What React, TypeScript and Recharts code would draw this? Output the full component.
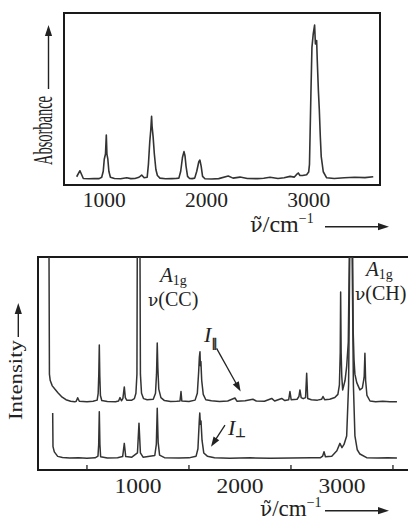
import React from 'react';
import { LineChart, Line, XAxis, YAxis, ReferenceArea, ReferenceLine, ReferenceDot } from 'recharts';

const FONT = '"Liberation Serif", "Times New Roman", serif';
const SYMBOL_FONT = '"DejaVu Sans", sans-serif';
const NU_FONT = '"DejaVu Serif", serif';
const INK = '#222';
const TRACE = '#333';

// ---------- IR absorbance (top panel) ----------
const irWavenumber = [730, 762, 795, 850, 900, 950, 975, 990, 1000, 1012, 1020, 1026, 1035, 1045, 1060, 1100, 1160, 1219, 1260, 1300, 1340, 1366, 1390, 1420, 1432, 1445, 1455, 1463, 1468, 1478, 1490, 1505, 1520, 1545, 1600, 1660, 1700, 1730, 1748, 1765, 1780, 1790, 1800, 1815, 1835, 1860, 1885, 1905, 1925, 1936, 1948, 1962, 1985, 2050, 2120, 2213, 2260, 2328, 2400, 2500, 2560, 2622, 2700, 2760, 2818, 2860, 2880, 2898, 2915, 2940, 2980, 3000, 3008, 3022, 3032, 3045, 3058, 3066, 3078, 3084, 3095, 3104, 3114, 3123, 3143, 3176, 3250, 3350, 3450, 3550, 3632];
const irAbsorbance = [4.8, 8.3, 3.8, 3.6, 3.8, 3.7, 4.5, 8, 15, 18, 29, 18, 15, 8, 4.5, 3.8, 3.6, 4.2, 3.7, 3.8, 4.5, 5.8, 4.2, 4.5, 12, 25, 32, 40, 34, 28, 18, 9, 5.5, 4, 3.6, 3.7, 3.8, 4, 8, 16, 19.4, 17, 11, 5, 3.8, 3.7, 4, 8, 13.5, 14.5, 11, 5, 3.6, 3.5, 3.7, 5.2, 4, 4.6, 3.8, 3.7, 3.9, 4.5, 3.8, 4.2, 5, 4.6, 6, 7, 5.5, 5.5, 6, 7.5, 12, 53, 80, 88, 93, 82, 84, 72.7, 55, 44, 28, 16.5, 7.7, 4.2, 3.8, 4.2, 4.5, 4.3, 4.8];
const irTicks = [1000, 2000, 3000];

// ---------- Raman (bottom panel) ----------
const parallelWavenumber = [128, 132, 140, 160, 185, 215, 250, 294, 340, 380, 395, 409, 425, 500, 560, 600, 610, 616, 621, 626, 632, 645, 700, 780, 810, 824, 838, 852, 866, 876, 890, 940, 965, 980, 990, 993, 1020, 1024, 1035, 1055, 1090, 1150, 1172, 1182, 1189, 1195, 1204, 1225, 1260, 1320, 1380, 1412, 1422, 1430, 1500, 1560, 1582, 1595, 1602, 1608, 1612, 1617, 1625, 1640, 1665, 1720, 1800, 1880, 1951, 1970, 2050, 2127, 2160, 2240, 2311, 2340, 2409, 2440, 2478, 2490, 2502, 2560, 2578, 2588, 2600, 2620, 2643, 2654, 2664, 2700, 2760, 2800, 2814, 2830, 2880, 2930, 2960, 2975, 2983, 2987, 2992, 2998, 3007, 3030, 3046, 3062, 3072, 3105, 3110, 3118, 3127, 3145, 3176, 3200, 3212, 3218, 3225, 3232, 3245, 3275, 3330, 3400, 3470, 3539];
const parallelIntensity = [100, 45, 42, 39.5, 38, 36.3, 34.5, 33, 32.3, 32, 32.3, 33.9, 32.3, 32, 32.3, 32.8, 36, 45, 58.7, 44, 35, 32.6, 32.2, 32, 32.4, 34, 32.5, 33.5, 39, 34, 32.8, 32.8, 33.5, 36, 45, 100, 100, 45, 36, 33.5, 33, 33.2, 36, 45, 59.6, 48, 38, 34, 32.6, 32.2, 32.3, 32.4, 36.8, 32.4, 32.2, 32.8, 36, 46, 53, 55.5, 49, 51, 42, 35.5, 33, 32.5, 32.2, 32.4, 33.8, 32.3, 32.5, 33.2, 32.4, 32.3, 33.6, 32.4, 33.6, 32.6, 33, 36.8, 33, 33.2, 34.5, 37.6, 34, 33.5, 34, 45.4, 33.6, 33, 32.8, 33.2, 34.5, 33, 33.2, 34, 35.5, 40, 55, 83.6, 55, 44, 37.6, 42, 48.5, 60, 100, 100, 65, 52, 45, 41, 37.6, 38.5, 42, 44, 54.8, 42, 35, 32.4, 32, 32.3, 32.1, 32];

const perpWavenumber = [164, 167, 180, 213, 260, 330, 420, 500, 580, 608, 615, 621, 627, 634, 700, 800, 850, 866, 880, 940, 995, 1010, 1024, 1050, 1165, 1180, 1189, 1198, 1212, 1260, 1400, 1500, 1570, 1588, 1600, 1606, 1612, 1618, 1628, 1645, 1680, 1750, 1900, 2100, 2300, 2500, 2700, 2790, 2810, 2824, 2838, 2900, 2950, 2980, 3000, 3020, 3046, 3065, 3076, 3100, 3112, 3127, 3150, 3176, 3242, 3350, 3450, 3539];
const perpIntensity = [26.8, 11, 8.5, 6.4, 5.9, 5.6, 5.7, 5.5, 5.7, 6.5, 12, 27.4, 12, 6.2, 5.6, 5.8, 6.3, 12.5, 6.3, 6, 8, 22, 8, 6, 6.8, 12, 29, 13, 7, 5.8, 5.6, 5.7, 6.5, 10, 22, 26.8, 21.5, 23, 14, 8, 6.5, 5.8, 5.5, 5.7, 5.5, 5.6, 5.8, 5.8, 6.5, 8.6, 6.2, 6.5, 9, 12.5, 10.5, 12, 16, 40, 100, 100, 40, 16, 9.5, 7.5, 5.8, 5.6, 5.8, 5.6];

const ramanTicks = [1000, 2000, 3000];
const ramanMinorTicks = [500, 1500, 2500, 3500];

const zip = (xs: number[], ys: number[]) => xs.map((x, i) => ({ x, y: ys[i] }));
const irData = zip(irWavenumber, irAbsorbance);
const parallelData = zip(parallelWavenumber, parallelIntensity);
const perpData = zip(perpWavenumber, perpIntensity);

const IR_DOMAIN: [number, number] = [606, 3698];
const RAMAN_DOMAIN: [number, number] = [20, 3667];

// ---------- helpers ----------
const Arrow = ({ x1, y1, x2, y2, w = 1.3, hl = 9, hw = 3.2 }: any) => {
  const dx = x2 - x1;
  const dy = y2 - y1;
  const L = Math.hypot(dx, dy) || 1;
  const ux = dx / L;
  const uy = dy / L;
  const bx = x2 - ux * hl;
  const by = y2 - uy * hl;
  return (
    <g>
      <line x1={x1} y1={y1} x2={bx + ux * 1} y2={by + uy * 1} stroke={INK} strokeWidth={w} />
      <polygon
        points={`${x2},${y2} ${bx - uy * hw},${by + ux * hw} ${bx + uy * hw},${by - ux * hw}`}
        fill={INK}
      />
    </g>
  );
};

const arrowShape = (p: any) => <Arrow x1={p.x1} y1={p.y1} x2={p.x2} y2={p.y2} w={1.3} hl={10} hw={3.4} />;

const makeTick = (dy: number, len: number) => (p: any) => (
  <text
    x={p.x}
    y={p.y + dy}
    textAnchor="middle"
    fontFamily={FONT}
    fontSize={20}
    fill={INK}
    textLength={len}
    lengthAdjust="spacingAndGlyphs"
  >
    {p.payload.value}
  </text>
);

// ν̃ (combining tilde), "/cm" and superscript −1, in one text element
const WavenumberTitle = ({ x, y, arrowY, size }: any) => (
  <g>
    <text x={x} y={y} fontFamily={FONT} fontSize={size} fill={INK}>
      <tspan fontFamily={NU_FONT} fontSize={size - 3}>{'ν\u0303'}</tspan>
      <tspan>/cm</tspan>
      <tspan dy={-9} fontSize={14}>−1</tspan>
    </text>
    <Arrow x1={325} y1={arrowY} x2={389} y2={arrowY} w={1.4} hl={11} hw={3.6} />
  </g>
);

const VerticalTitle = ({ text, x, y, len, fontSize, arrowX, arrowFrom, arrowTo }: any) => (
  <g>
    <text
      x={x}
      y={y}
      transform={`rotate(-90, ${x}, ${y})`}
      fontFamily={FONT}
      fontSize={fontSize}
      fill={INK}
      textLength={len}
      lengthAdjust="spacingAndGlyphs"
    >
      {text}
    </text>
    <Arrow x1={arrowX} y1={arrowFrom} x2={arrowX} y2={arrowTo} w={1.4} hl={11} hw={3.6} />
  </g>
);

const textDot = (render: (cx: number, cy: number) => React.ReactNode) => (p: any) => <g>{render(p.cx, p.cy)}</g>;

// "A1g" on one line with the mode name ν(XX) below, as one text element
const ModeLabel = (bond: string, dx: number, dy: number) =>
  textDot((cx, cy) => (
    <text x={cx} y={cy} fontFamily={FONT} fontSize={21} fill={INK}>
      <tspan fontStyle="italic">A</tspan>
      <tspan dy={3} fontSize={14}>1g</tspan>
      <tspan x={cx + dx} dy={dy - 3} fontFamily={NU_FONT} fontSize={17}>ν</tspan>
      <tspan fontSize={20}>{`(${bond})`}</tspan>
    </text>
  ));

const ILabel = (sub: string, subDy: number) =>
  textDot((cx, cy) => (
    <text x={cx} y={cy} fontFamily={FONT} fontSize={22} fill={INK}>
      <tspan fontStyle="italic">I</tspan>
      <tspan dy={subDy} fontSize={12} fontFamily={SYMBOL_FONT} fill={INK} stroke={INK} strokeWidth={0.5}>
        {sub}
      </tspan>
    </text>
  ));

export default function App() {
  return (
    <div style={{ position: 'absolute', left: 0, top: 0, width: 408, height: 521, overflow: 'hidden', background: '#fff' }}>
      <div style={{ position: 'absolute', left: 0, top: 0 }}>
        <LineChart width={408} height={240} margin={{ top: 13, right: 28, bottom: 0, left: 0 }}>
          <XAxis
            type="number"
            dataKey="x"
            domain={IR_DOMAIN}
            ticks={irTicks}
            interval={0}
            allowDataOverflow
            tickLine={false}
            axisLine={false}
            tickSize={0}
            tickMargin={0}
            height={55}
            tick={makeTick(22, 43)}
            label={{ content: () => <WavenumberTitle x={250} y={232} arrowY={226.7} size={24} /> }}
          />
          <YAxis
            type="number"
            domain={[0, 100]}
            width={64}
            allowDataOverflow
            tick={false}
            tickLine={false}
            axisLine={false}
            label={{
              content: () => (
                <VerticalTitle text="Absorbance" x={52} y={165} len={69} fontSize={27} arrowX={48.5} arrowFrom={89} arrowTo={25} />
              ),
            }}
          />
          <Line data={irData} dataKey="y" type="linear" stroke={TRACE} strokeWidth={1.6} dot={false} activeDot={false} isAnimationActive={false} strokeLinejoin="round" />
          <ReferenceArea x1={IR_DOMAIN[0]} x2={IR_DOMAIN[1]} y1={0} y2={100} fill="none" stroke="#1a1a1a" strokeWidth={2} ifOverflow="visible" />
        </LineChart>
      </div>

      <div style={{ position: 'absolute', left: 0, top: 240 }}>
        <LineChart width={410} height={281} margin={{ top: 17, right: 0, bottom: 0, left: 0 }}>
          <XAxis
            type="number"
            dataKey="x"
            domain={RAMAN_DOMAIN}
            ticks={ramanTicks}
            interval={0}
            allowDataOverflow
            tickLine={false}
            axisLine={false}
            tickSize={0}
            tickMargin={0}
            height={51}
            tick={makeTick(23.3, 47)}
            label={{ content: () => <WavenumberTitle x={260} y={276} arrowY={270.7} size={23} /> }}
          />
          <YAxis
            type="number"
            domain={[0, 100]}
            width={38}
            allowDataOverflow
            tick={false}
            tickLine={false}
            axisLine={false}
            label={{
              content: () => (
                <VerticalTitle text="Intensity" x={22} y={180} len={80} fontSize={19} arrowX={18.3} arrowFrom={97} arrowTo={63} />
              ),
            }}
          />
          <Line data={parallelData} dataKey="y" type="linear" stroke={TRACE} strokeWidth={1.5} dot={false} activeDot={false} isAnimationActive={false} strokeLinejoin="round" />
          <Line data={perpData} dataKey="y" type="linear" stroke={TRACE} strokeWidth={1.5} dot={false} activeDot={false} isAnimationActive={false} strokeLinejoin="round" />
          {ramanMinorTicks.map((t) => (
            <ReferenceLine key={t} segment={[{ x: t, y: 0 }, { x: t, y: 2.4 }]} stroke={INK} strokeWidth={1.3} />
          ))}
          <ReferenceDot x={1216} y={88.3} shape={ModeLabel('CC', -12, 24)} />
          <ReferenceDot x={3235} y={91.1} shape={ModeLabel('CH', -11, 24)} />
          <ReferenceDot x={1647} y={60.1} shape={ILabel('∥', 5)} />
          <ReferenceDot x={1882} y={16.4} shape={ILabel('⊥', 2)} />
          <ReferenceLine segment={[{ x: 1771, y: 57.1 }, { x: 2007, y: 36.8 }]} shape={arrowShape} />
          <ReferenceLine segment={[{ x: 1853, y: 21.1 }, { x: 1716, y: 10.9 }]} shape={arrowShape} />
          <ReferenceArea x1={RAMAN_DOMAIN[0]} x2={RAMAN_DOMAIN[1]} y1={0} y2={100} fill="none" stroke="#1a1a1a" strokeWidth={2} ifOverflow="visible" />
        </LineChart>
      </div>
    </div>
  );
}
